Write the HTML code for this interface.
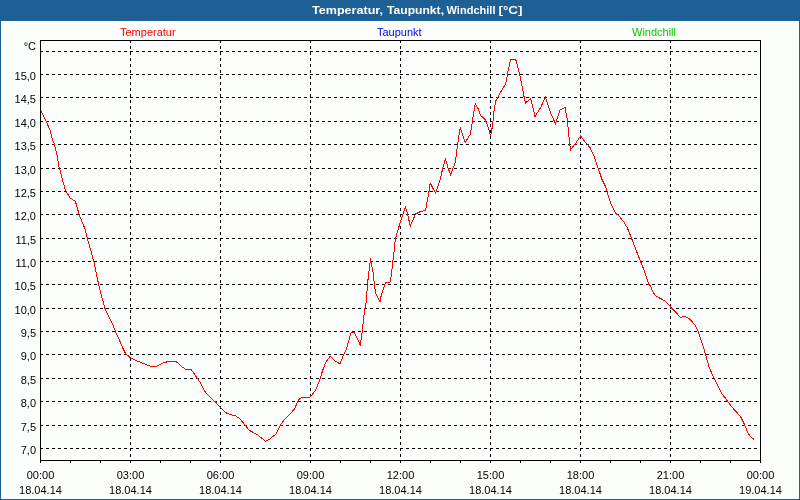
<!DOCTYPE html>
<html><head><meta charset="utf-8"><style>
html,body{margin:0;padding:0;}
body{width:800px;height:500px;overflow:hidden;background:#1e6094;position:relative;}
svg{position:absolute;left:0;top:0;will-change:transform;}
text{font-family:"Liberation Sans",sans-serif;font-size:11px;}
</style></head><body>
<svg width="800" height="500" viewBox="0 0 800 500">
<rect x="0" y="0" width="800" height="500" fill="#1e6094"/>
<rect x="1" y="21" width="798" height="478" fill="#fcfefc"/>
<g fill="#fff" font-weight="bold">
<text x="312" y="14" textLength="71" lengthAdjust="spacingAndGlyphs">Temperatur,</text>
<text x="387" y="14" textLength="57" lengthAdjust="spacingAndGlyphs">Taupunkt,</text>
<text x="446.5" y="14" textLength="49" lengthAdjust="spacingAndGlyphs">Windchill</text>
<text x="498.5" y="14" textLength="24" lengthAdjust="spacingAndGlyphs">[°C]</text>
</g>
<text x="120" y="36" fill="#ff0000">Temperatur</text>
<text x="377" y="36" fill="#0000ff">Taupunkt</text>
<text x="632" y="36" fill="#00c800">Windchill</text>
<g stroke="#000" stroke-width="1" stroke-dasharray="3 3" shape-rendering="crispEdges">
<line x1="40" y1="448.5" x2="760" y2="448.5"/><line x1="40" y1="425.5" x2="760" y2="425.5"/><line x1="40" y1="401.5" x2="760" y2="401.5"/><line x1="40" y1="378.5" x2="760" y2="378.5"/><line x1="40" y1="354.5" x2="760" y2="354.5"/><line x1="40" y1="331.5" x2="760" y2="331.5"/><line x1="40" y1="308.5" x2="760" y2="308.5"/><line x1="40" y1="284.5" x2="760" y2="284.5"/><line x1="40" y1="261.5" x2="760" y2="261.5"/><line x1="40" y1="238.5" x2="760" y2="238.5"/><line x1="40" y1="214.5" x2="760" y2="214.5"/><line x1="40" y1="191.5" x2="760" y2="191.5"/><line x1="40" y1="168.5" x2="760" y2="168.5"/><line x1="40" y1="144.5" x2="760" y2="144.5"/><line x1="40" y1="121.5" x2="760" y2="121.5"/><line x1="40" y1="97.5" x2="760" y2="97.5"/><line x1="40" y1="74.5" x2="760" y2="74.5"/><line x1="40" y1="51.5" x2="760" y2="51.5"/>
<line x1="130.5" y1="40" x2="130.5" y2="460"/><line x1="220.5" y1="40" x2="220.5" y2="460"/><line x1="310.5" y1="40" x2="310.5" y2="460"/><line x1="400.5" y1="40" x2="400.5" y2="460"/><line x1="490.5" y1="40" x2="490.5" y2="460"/><line x1="580.5" y1="40" x2="580.5" y2="460"/><line x1="670.5" y1="40" x2="670.5" y2="460"/>
</g>
<g stroke="#000" stroke-width="1" shape-rendering="crispEdges">
<rect x="40.5" y="40.5" width="720" height="420" fill="none"/>
<line x1="40.5" y1="460" x2="40.5" y2="463"/><line x1="70.5" y1="460" x2="70.5" y2="463"/><line x1="100.5" y1="460" x2="100.5" y2="463"/><line x1="130.5" y1="460" x2="130.5" y2="463"/><line x1="160.5" y1="460" x2="160.5" y2="463"/><line x1="190.5" y1="460" x2="190.5" y2="463"/><line x1="220.5" y1="460" x2="220.5" y2="463"/><line x1="250.5" y1="460" x2="250.5" y2="463"/><line x1="280.5" y1="460" x2="280.5" y2="463"/><line x1="310.5" y1="460" x2="310.5" y2="463"/><line x1="340.5" y1="460" x2="340.5" y2="463"/><line x1="370.5" y1="460" x2="370.5" y2="463"/><line x1="400.5" y1="460" x2="400.5" y2="463"/><line x1="430.5" y1="460" x2="430.5" y2="463"/><line x1="460.5" y1="460" x2="460.5" y2="463"/><line x1="490.5" y1="460" x2="490.5" y2="463"/><line x1="520.5" y1="460" x2="520.5" y2="463"/><line x1="550.5" y1="460" x2="550.5" y2="463"/><line x1="580.5" y1="460" x2="580.5" y2="463"/><line x1="610.5" y1="460" x2="610.5" y2="463"/><line x1="640.5" y1="460" x2="640.5" y2="463"/><line x1="670.5" y1="460" x2="670.5" y2="463"/><line x1="700.5" y1="460" x2="700.5" y2="463"/><line x1="730.5" y1="460" x2="730.5" y2="463"/><line x1="760.5" y1="460" x2="760.5" y2="463"/>
</g>
<g fill="#000">
<text x="36" y="50" text-anchor="end">°C</text>
<text x="36" y="454" text-anchor="end">7,0</text><text x="36" y="431" text-anchor="end">7,5</text><text x="36" y="407" text-anchor="end">8,0</text><text x="36" y="384" text-anchor="end">8,5</text><text x="36" y="360" text-anchor="end">9,0</text><text x="36" y="337" text-anchor="end">9,5</text><text x="36" y="314" text-anchor="end">10,0</text><text x="36" y="290" text-anchor="end">10,5</text><text x="36" y="267" text-anchor="end">11,0</text><text x="36" y="244" text-anchor="end">11,5</text><text x="36" y="220" text-anchor="end">12,0</text><text x="36" y="197" text-anchor="end">12,5</text><text x="36" y="174" text-anchor="end">13,0</text><text x="36" y="150" text-anchor="end">13,5</text><text x="36" y="127" text-anchor="end">14,0</text><text x="36" y="103" text-anchor="end">14,5</text><text x="36" y="80" text-anchor="end">15,0</text>
<text x="40.5" y="479" text-anchor="middle">00:00</text><text x="40.5" y="494" text-anchor="middle">18.04.14</text><text x="130.5" y="479" text-anchor="middle">03:00</text><text x="130.5" y="494" text-anchor="middle">18.04.14</text><text x="220.5" y="479" text-anchor="middle">06:00</text><text x="220.5" y="494" text-anchor="middle">18.04.14</text><text x="310.5" y="479" text-anchor="middle">09:00</text><text x="310.5" y="494" text-anchor="middle">18.04.14</text><text x="400.5" y="479" text-anchor="middle">12:00</text><text x="400.5" y="494" text-anchor="middle">18.04.14</text><text x="490.5" y="479" text-anchor="middle">15:00</text><text x="490.5" y="494" text-anchor="middle">18.04.14</text><text x="580.5" y="479" text-anchor="middle">18:00</text><text x="580.5" y="494" text-anchor="middle">18.04.14</text><text x="670.5" y="479" text-anchor="middle">21:00</text><text x="670.5" y="494" text-anchor="middle">18.04.14</text><text x="760.5" y="479" text-anchor="middle">00:00</text><text x="760.5" y="494" text-anchor="middle">19.04.14</text>
</g>
<path d="M41,111 L46,121 L50,130 L52,138 L54.5,144.5 L57,155 L59,167 L60,170 L62,178 L65.4,190 L70,198 L75,201 L76,203.4 L79,214 L81.6,220.8 L85.2,229.2 L87.4,238.4 L93.8,261.4 L98.6,284.3 L100.8,293.2 L105,308.5 L108,314.8 L112.8,324.4 L115.4,331.4 L119,339.2 L122.6,347.6 L125.6,353.6 L129.8,357.2 L134,359.6 L141.2,362.6 L150.2,366.2 L156.8,366.2 L162.8,363.2 L168.4,361.4 L175.6,361.4 L178.6,363.4 L182.2,367 L185.2,369 L190.6,369 L193.6,373 L196.6,377.2 L201.4,384.4 L204.8,391.4 L208.4,395.6 L212,399.2 L215.6,402.2 L220.4,407.6 L225.2,412.4 L230,414.6 L234.8,415.4 L239.6,418.4 L245,425 L249.2,430.4 L253,432.3 L258.4,435.4 L262,438.4 L265.6,441.4 L269.2,439.6 L272.8,436.6 L276.4,433.6 L278.8,428.8 L281.2,424 L284.8,419.2 L290.8,413.2 L294.4,409 L297.6,402 L299.8,398.3 L303.8,397.4 L309.8,397.4 L314.6,391.6 L317.6,385.6 L320.6,377.2 L322.4,371.2 L325.4,362.8 L330.2,356.2 L335,361 L340,363.8 L342.8,356.8 L345.8,350.8 L348.8,340.4 L351.2,332 L354.2,332.6 L357.2,338 L360.2,345.2 L362,333.2 L364.4,311.6 L366.2,302 L367,291.6 L367.6,283.2 L368.8,272.4 L370,262.8 L370.4,258 L371.2,262.8 L373,272.4 L374.8,288 L375.6,293.5 L380,302 L381,296.5 L383.5,288.5 L385.6,282.6 L390.4,282 L391.6,272.4 L392.8,261.6 L394,252 L395.2,240.4 L396.4,235 L398.8,227.2 L401.8,217.6 L405.4,207 L407.2,212.8 L410.3,226 L415.6,214 L420.4,211.6 L425.6,210.5 L427,202.5 L429.2,190.5 L430.2,183 L435.6,193.4 L439.8,180.8 L442.8,168.2 L445.3,158.8 L448.2,168.2 L450.6,174.8 L453,168.2 L455.4,162.2 L457.2,147.2 L458.4,139.4 L460.2,127.4 L465.3,142.5 L470.4,134 L472.2,122.6 L475.2,103.4 L478.2,108.8 L480.6,115.4 L484.8,119 L487.8,126.2 L490.6,135.8 L492.6,125.6 L494,111 L495.8,101 L501,91.4 L505.8,83.6 L507.6,73.4 L510.6,59 L512.4,59 L516,60.2 L519.6,74 L521.4,82.4 L523.8,95.6 L525.5,103 L530.6,98.5 L535,116.4 L540.4,108 L545.3,97.2 L550.6,112.8 L555.4,123.6 L560.2,109.8 L565,107.4 L567.4,120.6 L568.6,133.2 L570.4,150 L575.8,143 L580.6,135.8 L586,143 L590.2,147.8 L595,158.6 L598.6,169.4 L602.2,180 L605.8,187.2 L607.6,193.2 L610.6,203.4 L616,213.6 L619,216 L623.8,222 L627.4,228 L631.6,238.4 L635.8,249.4 L640.6,261.4 L644.8,272.2 L649,284.5 L650.6,286 L652.4,290.8 L655.4,295.6 L659.6,298 L665,301 L668,304 L671.2,307.6 L675.8,312.4 L680.6,317.5 L684.2,316 L689.6,319 L695,325 L698,331 L700.3,338 L702.6,344.6 L705.6,354.8 L709.2,367.4 L714,378.2 L718.2,386.6 L722,394 L725,397.6 L728,401.8 L731,406 L736.4,412 L740.6,416.8 L744.8,425.2 L747.2,431.2 L750.2,436.6 L754.4,439.6" fill="none" stroke="#ff0000" stroke-width="1" shape-rendering="crispEdges"/>
</svg>
</body></html>
